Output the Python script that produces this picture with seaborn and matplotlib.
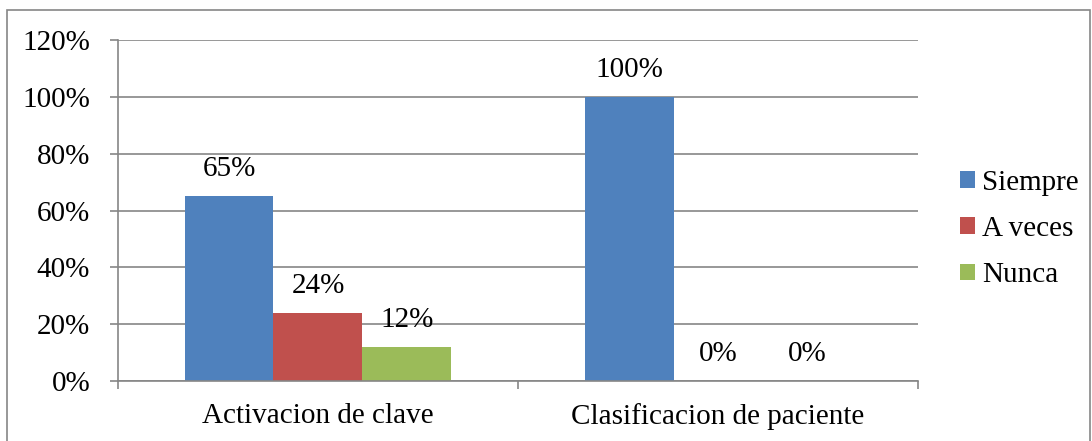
import pandas as pd
import numpy as np
import seaborn as sns
import matplotlib.pyplot as plt
from matplotlib.ticker import PercentFormatter, FixedLocator
from matplotlib.patches import Rectangle

# Data
categorias = ["Activacion de clave", "Clasificacion de paciente"]
respuestas = ["Siempre", "A veces", "Nunca"]
siempre = [0.65, 1.00]
a_veces = [0.24, 0.0]
nunca = [0.12, 0.0]
colores = ["#4F81BD", "#C0504D", "#9BBB59"]

df = pd.DataFrame({
    "categoria": categorias * 3,
    "respuesta": np.repeat(respuestas, len(categorias)),
    "valor": siempre + a_veces + nunca,
})

sns.set_style("white")
plt.rcParams["font.family"] = ["Liberation Serif", "DejaVu Serif"]
plt.rcParams["font.size"] = 21
plt.rcParams["text.color"] = "black"

fig = plt.figure(figsize=(10.92, 4.41), dpi=100)
ax = fig.add_axes([0.108, 0.136, 0.7327, 0.773])
sns.barplot(data=df, x="categoria", y="valor", hue="respuesta",
            palette=colores, width=0.667, saturation=1, ax=ax,
            linewidth=0)

grid_color = "#868686"
fs = 21
ax.set_ylim(0, 1.2)
ax.set_xlim(-0.5, 1.5)
ax.set_yticks(np.arange(0, 1.21, 0.2))
ax.yaxis.set_major_formatter(PercentFormatter(1.0, decimals=0))
ax.yaxis.grid(True, color=grid_color, linewidth=1.2)
ax.set_axisbelow(True)
ax.set_xlabel("")
ax.set_ylabel("")
ax.xaxis.set_minor_locator(FixedLocator([-0.5, 0.5, 1.5]))
ax.tick_params(axis="x", which="major", bottom=True, length=0, pad=16,
               labelsize=fs, labelcolor="black")
ax.tick_params(axis="x", which="minor", bottom=True, length=6, width=1.2,
               color=grid_color, direction="out")
ax.tick_params(axis="y", left=True, length=6, width=1.2, color=grid_color,
               direction="out", pad=14, labelsize=fs, labelcolor="black")
ax.spines["right"].set_visible(False)
ax.spines["top"].set_visible(False)
for s in ["left", "bottom"]:
    ax.spines[s].set_color(grid_color)
    ax.spines[s].set_linewidth(1.2)

for cont in ax.containers:
    ax.bar_label(cont, labels=[f"{v*100:.0f}%" for v in cont.datavalues],
                 padding=10, fontsize=fs, color="black")

handles, labels = ax.get_legend_handles_labels()
ax.legend(handles, labels, loc="center left", bbox_to_anchor=(1.02, 0.446),
          frameon=False, fontsize=fs, handlelength=0.5, handleheight=0.5,
          handletextpad=0.25, labelspacing=0.7)

fig.patches.append(Rectangle((7 / 1092, -0.05), (1090 - 7) / 1092, 1.05 - 10 / 441,
                             transform=fig.transFigure, fill=False,
                             edgecolor=grid_color, linewidth=1.2))

fig.savefig("out.png", dpi=100)
